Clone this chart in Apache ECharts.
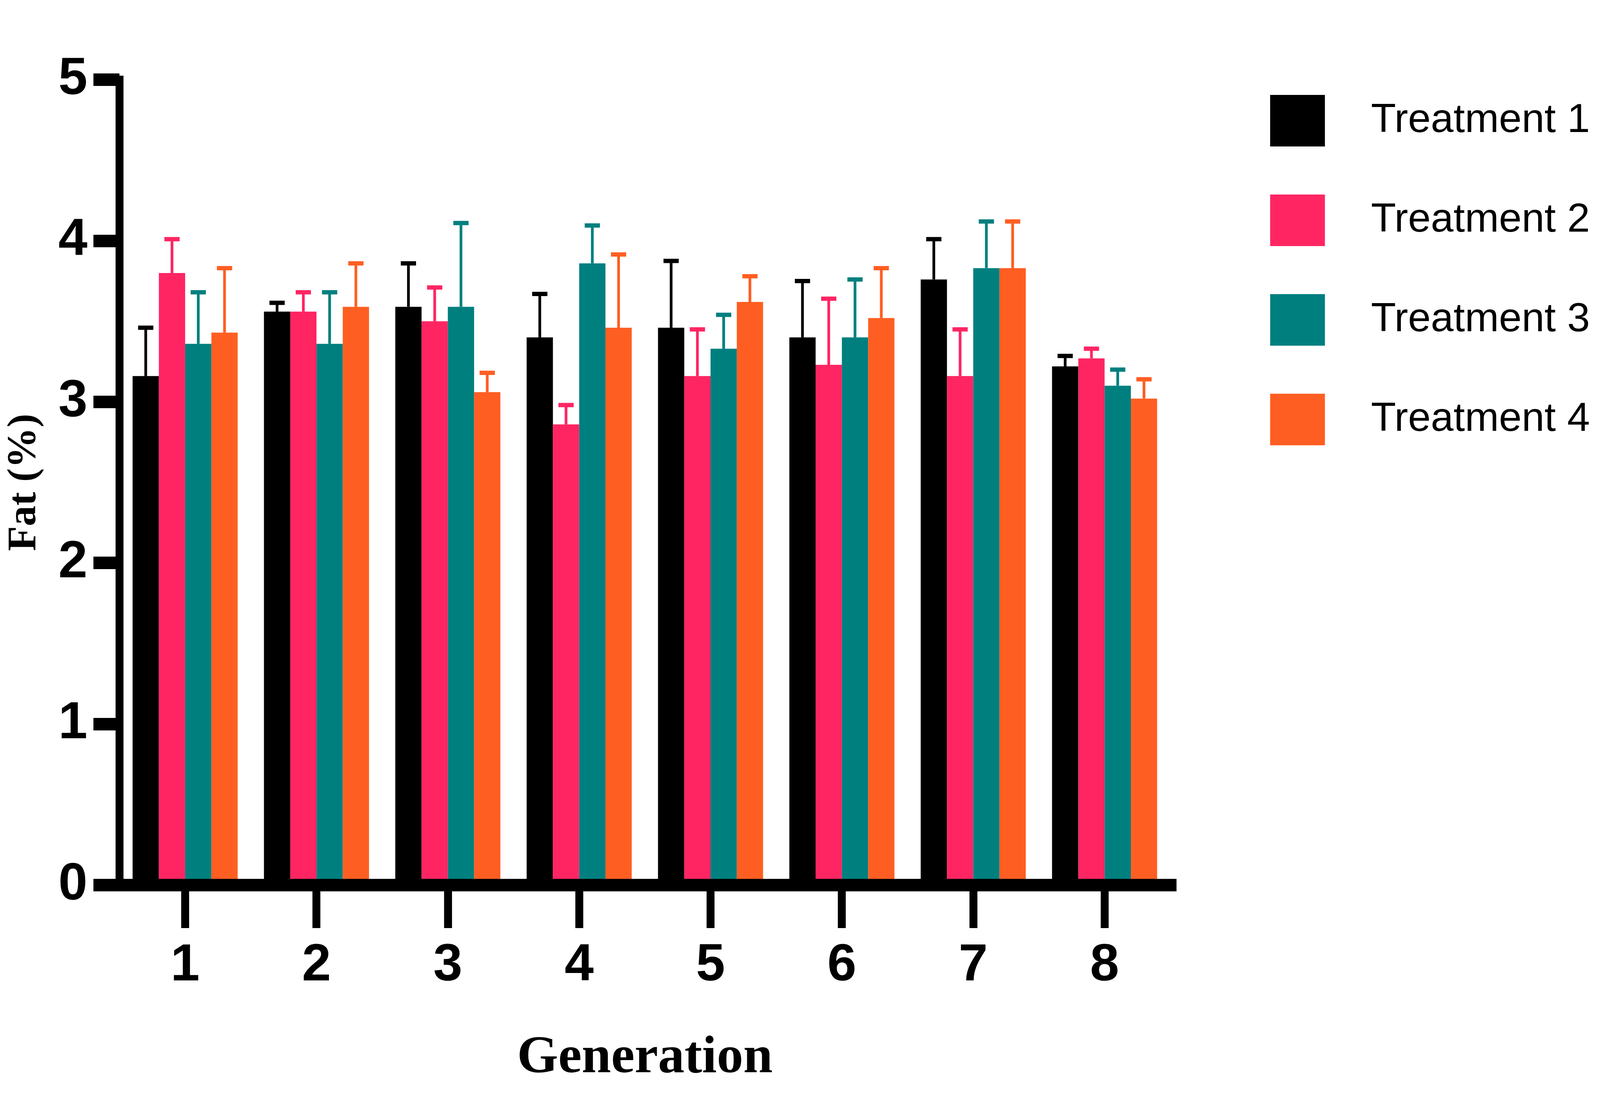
<!DOCTYPE html>
<html>
<head>
<meta charset="utf-8">
<script src="https://cdn.jsdelivr.net/npm/echarts@6/dist/echarts.min.js"></script>
<style>html,body{margin:0;padding:0;background:#fff;overflow:hidden;}#c{width:100vw;height:100vh;}</style>
</head>
<body>
<div id="c"></div>
<script>
const categories = ['1','2','3','4','5','6','7','8'];
const seriesNames = ['Treatment 1','Treatment 2','Treatment 3','Treatment 4'];
const colors = ['#000000','#FF2563','#007F7F','#FF5E22'];
const t1Mean = [3.16, 3.56, 3.59, 3.40, 3.46, 3.40, 3.76, 3.22];
const t1Err  = [0.30, 0.055, 0.27, 0.27, 0.415, 0.35, 0.25, 0.065];
const t2Mean = [3.80, 3.56, 3.50, 2.86, 3.16, 3.23, 3.16, 3.27];
const t2Err  = [0.21, 0.12, 0.21, 0.12, 0.29, 0.41, 0.29, 0.06];
const t3Mean = [3.36, 3.36, 3.59, 3.86, 3.33, 3.40, 3.83, 3.10];
const t3Err  = [0.32, 0.32, 0.52, 0.235, 0.21, 0.36, 0.29, 0.10];
const t4Mean = [3.43, 3.59, 3.06, 3.46, 3.62, 3.52, 3.83, 3.02];
const t4Err  = [0.40, 0.27, 0.12, 0.455, 0.16, 0.31, 0.29, 0.12];
const yTicks = [0, 1, 2, 3, 4, 5];

const means = [t1Mean, t2Mean, t3Mean, t4Mean];
const errs = [t1Err, t2Err, t3Err, t4Err];
const nSeries = means.length;
const catGap = 0.2;

const el = document.getElementById('c');
const W = el.clientWidth || window.innerWidth, H = el.clientHeight || window.innerHeight;
// layout designed for a 6456 x 2852 canvas; scale each direction to the real viewport
const kx = W / 6456, ky = H / 2852, kf = Math.sqrt(kx * ky);
const X = v => v * kx, Y = v => v * ky, F = v => v * kf;

const chart = echarts.init(el);
const series = [];
means.forEach((m, si) => {
  series.push({
    name: seriesNames[si], type: 'bar', data: m,
    barGap: '0%', barCategoryGap: (catGap * 100) + '%',
    itemStyle: { color: colors[si] }, z: 2
  });
});
means.forEach((m, si) => {
  series.push({
    name: seriesNames[si] + ' err', type: 'custom', z: 3,
    data: m.map((v, i) => [i, v, errs[si][i]]),
    encode: { x: 0, y: 1 },
    renderItem: function (params, api) {
      const ci = api.value(0), mean = api.value(1), top = mean + api.value(2);
      const p0 = api.coord([ci, mean]);
      const p1 = api.coord([ci, top]);
      const band = api.size([1, 0])[0];
      const bw = band * (1 - catGap) / nSeries;
      const x = p0[0] + (si - (nSeries - 1) / 2) * bw;
      const ch = bw * 0.29;
      return { type: 'group', children: [
        { type: 'rect', shape: { x: x - X(5.5), y: p1[1], width: X(11), height: p0[1] - p1[1] }, style: { fill: colors[si] } },
        { type: 'rect', shape: { x: x - ch, y: p1[1] - Y(5.5), width: 2 * ch, height: Y(11) }, style: { fill: colors[si] } }
      ]};
    }
  });
});

const sans = 'Liberation Sans, Arial, Helvetica, sans-serif';
const serif = 'Liberation Serif, Times New Roman, serif';
const yNameSize = Math.min(F(160), X(165));

chart.setOption({
  animation: false,
  backgroundColor: '#ffffff',
  grid: { left: X(482), top: Y(204), width: X(4240), height: Y(2062), containLabel: false, outerBoundsMode: 'none' },
  legend: {
    data: seriesNames, orient: 'vertical', left: X(5125), top: Y(243), padding: 0,
    icon: 'rect', itemWidth: X(221), itemHeight: Y(132), itemGap: Y(123),
    textStyle: { fontFamily: sans, fontSize: Math.min(F(162), X(165)), color: '#000', lineHeight: Y(132), padding: [0, 0, 0, X(178)] }
  },
  xAxis: {
    type: 'category', data: categories, z: 10,
    name: 'Generation', nameLocation: 'middle', nameGap: Y(377),
    nameTextStyle: { fontFamily: serif, fontWeight: 'bold', fontSize: F(170), color: '#000' },
    axisLine: { show: true, lineStyle: { color: '#000', width: Y(32), cap: 'square' } },
    axisTick: { show: true, alignWithLabel: true, length: Y(110), lineStyle: { color: '#000', width: X(32) } },
    axisLabel: { show: true, fontFamily: sans, fontWeight: 'bold', fontSize: F(168), color: '#000', margin: Y(140) },
    splitLine: { show: false }
  },
  yAxis: {
    type: 'value', min: yTicks[0], max: yTicks[yTicks.length - 1], interval: 1, z: 10,
    name: 'Fat (%)', nameLocation: 'middle', nameGap: X(300),
    nameTextStyle: { fontFamily: serif, fontWeight: 'bold', fontSize: yNameSize, color: '#000' },
    axisLine: { show: true, lineStyle: { color: '#000', width: X(32), cap: 'square' } },
    axisTick: { show: true, length: X(105), lineStyle: { color: '#000', width: Y(32) } },
    axisLabel: { fontFamily: sans, fontWeight: 'bold', fontSize: F(168), color: '#000', margin: X(129) },
    splitLine: { show: false }
  },
  series: series
});
</script>
</body>
</html>
